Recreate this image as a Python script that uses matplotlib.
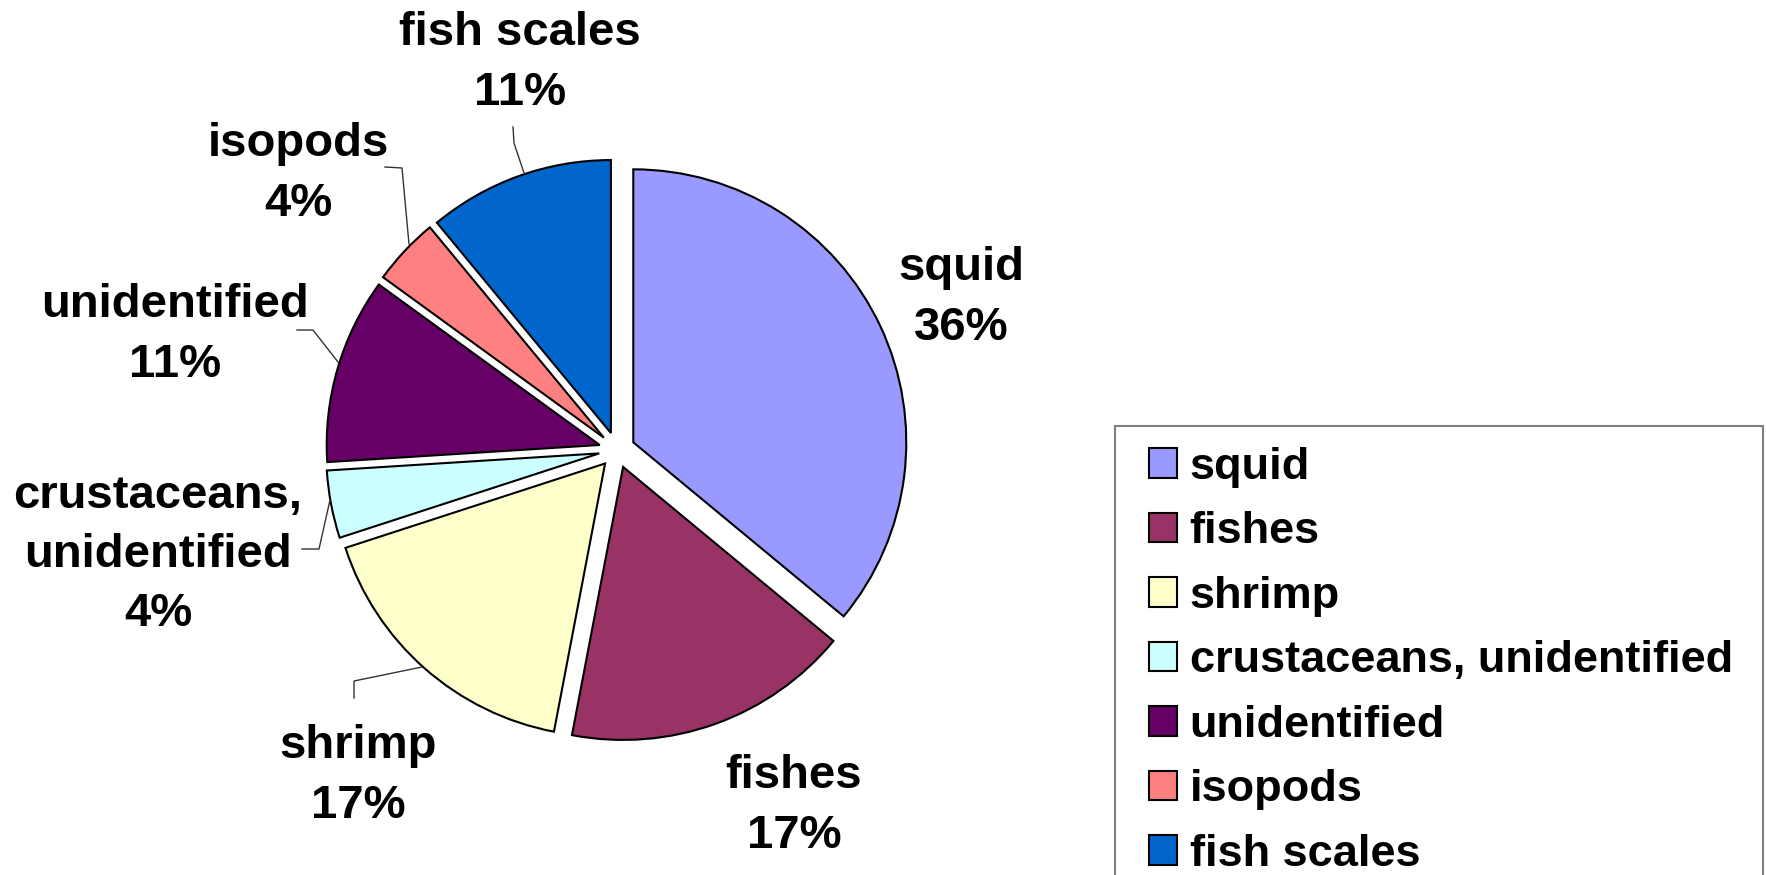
import matplotlib
matplotlib.use('Agg')
import matplotlib.pyplot as plt
from matplotlib.patches import Rectangle

# diet composition (%)
categories = ['squid', 'fishes', 'shrimp', 'crustaceans, unidentified',
              'unidentified', 'isopods', 'fish scales']
values = [36, 17, 17, 4, 11, 4, 11]
colors = ['#9999FF', '#993366', '#FFFFCC', '#CCFFFF', '#660066', '#FF8080', '#0066CC']

# label centres in pixel space (x right, y down)
label_pos = [(961, 298), (794, 806), (358, 776), (158, 555),
             (175, 335), (298, 174), (520, 63)]
# leader lines (pixel space, y down), one per label, None when absent
leaders = [None, None,
           [(354, 698), (354, 681), (422, 667)],
           [(302, 549), (319, 549), (330, 500)],
           [(297, 330), (313, 330), (338, 362)],
           [(385, 167), (402, 168), (409, 244)],
           [(513, 127), (514, 143), (524, 173)]]

W, H = 1766, 875
plt.rcParams['font.family'] = ['Liberation Sans', 'DejaVu Sans']
plt.rcParams['font.weight'] = 'bold'

fig = plt.figure(figsize=(W / 100, H / 100), dpi=100)
ax = fig.add_axes([0, 0, 1, 1])

# explode is in data units here (pixels)
wedges, _ = ax.pie(values, colors=colors, startangle=90, counterclock=False,
                   explode=[18] * len(values), radius=273, center=(617, H - 450),
                   wedgeprops=dict(edgecolor='black', linewidth=1.5))

for name, v, (x, y) in zip(categories, values, label_pos):
    txt = name.replace(', ', ',\n') + '\n' + f'{v}%'
    ax.text(x, H - y, txt, ha='center', va='center', fontsize=34,
            fontweight='bold', linespacing=1.45, multialignment='center')

for pts in leaders:
    if pts is None:
        continue
    ax.plot([p[0] for p in pts], [H - p[1] for p in pts], color='#333333', lw=1)

# legend frame runs off the bottom of the picture
ax.add_patch(Rectangle((1115, -20), 648, H - 426 + 20, facecolor='white',
                       edgecolor='#808080', lw=1.5, zorder=5))

ax.set_xlim(0, W)
ax.set_ylim(0, H)
ax.set_aspect('equal')
ax.axis('off')

leg = fig.legend(wedges, categories, loc='upper left',
                 bbox_to_anchor=(1149 / W, 1 - 447 / H), frameon=False,
                 prop=dict(size=32.5, weight='bold'), borderpad=0,
                 labelspacing=0.52, handlelength=0.62, handleheight=0.62,
                 handletextpad=0.28, borderaxespad=0)
leg.set_zorder(10)

fig.savefig('out.png', dpi=100)
